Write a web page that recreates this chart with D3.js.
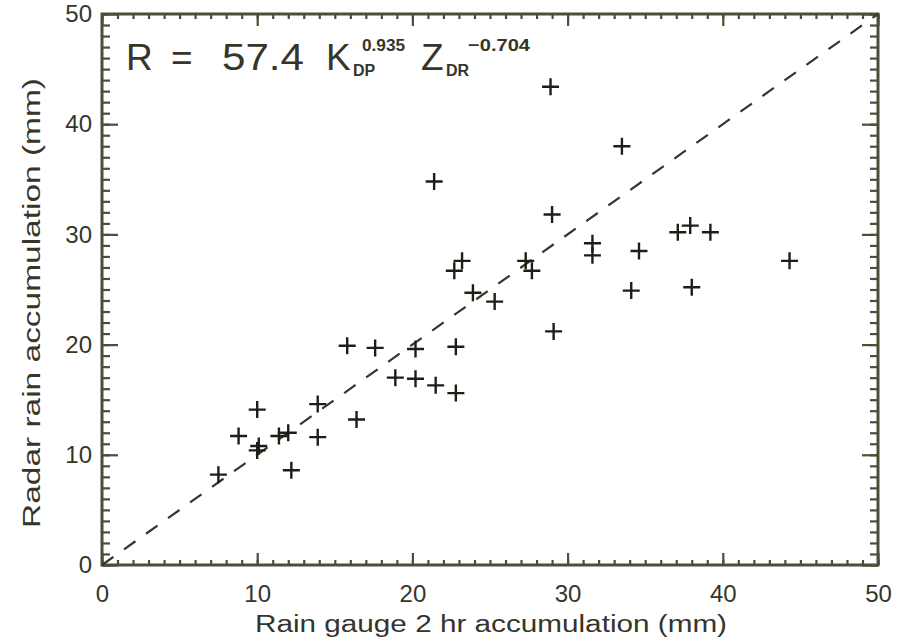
<!DOCTYPE html>
<html>
<head>
<meta charset="utf-8">
<script src="https://cdn.jsdelivr.net/npm/d3@7"></script>
<style>
  html, body { margin: 0; padding: 0; background: #fff; }
  svg { display: block; font-family: "Liberation Sans", Arial, sans-serif; }
</style>
</head>
<body>
<svg id="chart" width="897" height="639"></svg>
<script>
// ---- data ----
const gaugeX = [7.5, 8.8, 10.0, 10.1, 10.0, 11.4, 12.0, 12.2, 13.9, 13.9, 16.4, 15.8, 17.6, 18.9, 20.2, 20.2, 21.5, 22.8, 22.8,
                21.4, 22.7, 23.2, 23.9, 25.3, 27.3, 27.7, 28.9, 29.0, 29.1, 31.6, 31.6, 33.5, 34.6, 34.1, 37.1, 37.9, 39.2, 38.0, 44.3];
const radarY = [8.2, 11.7, 14.1, 10.8, 10.4, 11.7, 12.0, 8.6, 14.6, 11.6, 13.2, 19.9, 19.7, 17.0, 19.6, 16.9, 16.3, 19.8, 15.6,
                34.8, 26.7, 27.6, 24.7, 23.9, 27.6, 26.7, 43.4, 31.8, 21.2, 29.2, 28.1, 38.0, 28.5, 24.9, 30.2, 30.8, 30.2, 25.2, 27.6];
const lineX = [0, 50];
const lineY = [0, 50];
const majorTicks = [0, 10, 20, 30, 40, 50];
const minorTicks = d3.range(0, 51, 1);
const xTitle = "Rain gauge 2 hr accumulation (mm)";
const yTitle = "Radar rain accumulation (mm)";

// ---- layout ----
const svg = d3.select("#chart");
const L = 102, R = 878, T = 14, B = 565;
const ink = "#35352a";
const axisCol = "#4d4d38";

const x = d3.scaleLinear().domain([0, 50]).range([L, R]);
const y = d3.scaleLinear().domain([0, 50]).range([B, T]);

function styleAxis(g) {
  g.select(".domain").remove();
  g.selectAll("line").attr("stroke", axisCol).attr("stroke-width", 2.2);
  g.selectAll("text").attr("fill", ink).attr("font-size", 24)
    .attr("font-family", "'Liberation Sans', Arial, sans-serif");
}

// minor ticks
svg.append("g").attr("transform", `translate(0,${B})`)
  .call(d3.axisBottom(x).tickValues(minorTicks).tickSize(-5).tickFormat(""))
  .call(styleAxis);
svg.append("g").attr("transform", `translate(0,${T})`)
  .call(d3.axisTop(x).tickValues(minorTicks).tickSize(-5).tickFormat(""))
  .call(styleAxis);
svg.append("g").attr("transform", `translate(${L},0)`)
  .call(d3.axisLeft(y).tickValues(minorTicks).tickSize(-8).tickFormat(""))
  .call(styleAxis);
svg.append("g").attr("transform", `translate(${R},0)`)
  .call(d3.axisRight(y).tickValues(minorTicks).tickSize(-8).tickFormat(""))
  .call(styleAxis);

// major ticks + labels
svg.append("g").attr("transform", `translate(0,${B})`)
  .call(d3.axisBottom(x).tickValues(majorTicks).tickSize(-12).tickPadding(20).tickFormat(d3.format("d")))
  .call(styleAxis);
svg.append("g").attr("transform", `translate(0,${T})`)
  .call(d3.axisTop(x).tickValues(majorTicks).tickSize(-12).tickFormat(""))
  .call(styleAxis);
svg.append("g").attr("transform", `translate(${L},0)`)
  .call(d3.axisLeft(y).tickValues(majorTicks).tickSize(-16).tickPadding(10).tickFormat(d3.format("d")))
  .call(styleAxis);
svg.append("g").attr("transform", `translate(${R},0)`)
  .call(d3.axisRight(y).tickValues(majorTicks).tickSize(-16).tickFormat(""))
  .call(styleAxis);

// frame
svg.append("rect").attr("x", L).attr("y", T).attr("width", R - L).attr("height", B - T)
  .attr("fill", "none").attr("stroke", axisCol).attr("stroke-width", 3);

// 1:1 dashed line
svg.append("path")
  .datum(lineX.map((v, i) => [v, lineY[i]]))
  .attr("d", d3.line().x(d => x(d[0])).y(d => y(d[1])))
  .attr("fill", "none").attr("stroke", ink).attr("stroke-width", 2.2)
  .attr("stroke-dasharray", "14,13");

// plus markers
const pts = gaugeX.map((v, i) => [v, radarY[i]]);
const s = 8.5;
svg.append("g").selectAll("path").data(pts).join("path")
  .attr("d", d => {
    const cx = x(d[0]), cy = y(d[1]);
    return `M${cx - s},${cy}H${cx + s}M${cx},${cy - s}V${cy + s}`;
  })
  .attr("stroke", "#1e1e16").attr("stroke-width", 2.4).attr("fill", "none");

// axis titles
svg.append("text").attr("x", 255).attr("y", 632)
  .attr("font-size", 23).attr("fill", ink)
  .attr("textLength", 472).attr("lengthAdjust", "spacingAndGlyphs")
  .text(xTitle);
svg.append("text").attr("transform", "translate(40,528) rotate(-90)")
  .attr("font-size", 23).attr("fill", ink)
  .attr("textLength", 450).attr("lengthAdjust", "spacingAndGlyphs")
  .text(yTitle);

// equation
const eq = svg.append("g").attr("fill", ink);
eq.append("text").attr("x", 126).attr("y", 70).attr("font-size", 37).text("R");
eq.append("text").attr("x", 171).attr("y", 70).attr("font-size", 37).text("=");
eq.append("text").attr("x", 222).attr("y", 70).attr("font-size", 37)
  .attr("textLength", 82).attr("lengthAdjust", "spacingAndGlyphs").text("57.4");
eq.append("text").attr("x", 326).attr("y", 70).attr("font-size", 37).text("K");
eq.append("text").attr("x", 353).attr("y", 76).attr("font-size", 16).attr("font-weight", "bold").text("DP");
eq.append("text").attr("x", 362).attr("y", 51).attr("font-size", 16).attr("font-weight", "bold")
  .attr("textLength", 43).attr("lengthAdjust", "spacingAndGlyphs").text("0.935");
eq.append("text").attr("x", 421).attr("y", 70).attr("font-size", 37).text("Z");
eq.append("text").attr("x", 446).attr("y", 76).attr("font-size", 16).attr("font-weight", "bold").text("DR");
eq.append("text").attr("x", 468).attr("y", 51).attr("font-size", 17).attr("font-weight", "bold")
  .attr("textLength", 62).attr("lengthAdjust", "spacingAndGlyphs").text("\u22120.704");
</script>
</body>
</html>
